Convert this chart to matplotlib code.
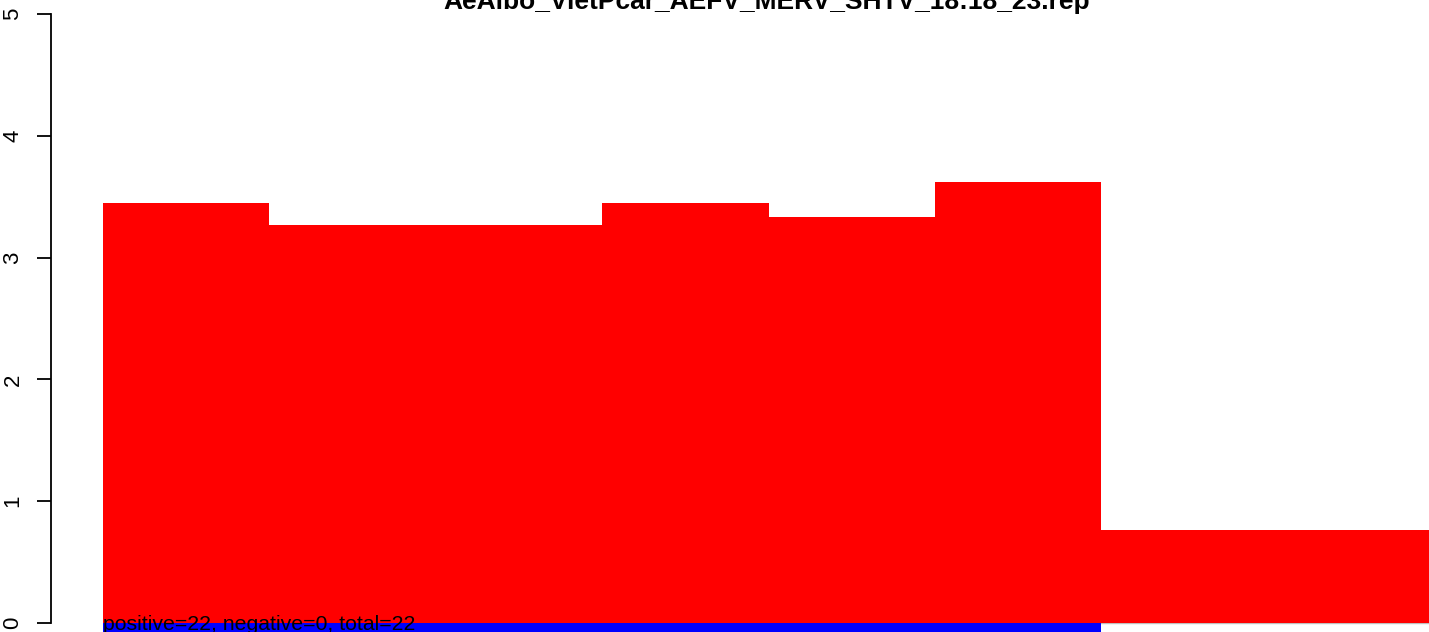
import matplotlib
matplotlib.use("Agg")
import matplotlib.pyplot as plt

plt.rcParams['font.family'] = ['Liberation Sans', 'DejaVu Sans']

title = "AeAlbo_VietPcar_AEFV_MERV_SHTV_18:18_23.rep"
positive = [3.45, 3.27, 3.27, 3.45, 3.33, 3.62, 0.76, 0.76]
negative = [-0.1, -0.1, -0.1, -0.1, -0.1, -0.1, 0.0, 0.0]
yticks = [0, 1, 2, 3, 4, 5]
note = "positive=22, negative=0, total=22"

W, H = 1429, 632
fig = plt.figure(figsize=(W / 100, H / 100), dpi=100)
ax = fig.add_axes([50.5 / W, 0, 1 - 50.5 / W, 1])

unit = 166.4
x = list(range(len(positive)))
ax.hlines(0, 0, len(positive), color='#bebebe', lw=1, zorder=1)
ax.bar(x, positive, width=1.0, align='edge', color='#ff0000', lw=0, zorder=2)
ax.bar(x, negative, width=1.0, align='edge', color='#0000ff', lw=0, zorder=2)

ax.set_xlim(-(103 - 50.5) / unit, (W - 103) / unit)
ax.set_ylim(-9 / 121.8, 623 / 121.8)

for s in ['top', 'right', 'bottom']:
    ax.spines[s].set_visible(False)
ax.spines['left'].set_bounds(0, 5)
ax.spines['left'].set_linewidth(1.3)
ax.set_xticks([])
ax.set_yticks(yticks)
ax.set_yticklabels([str(v) for v in yticks], rotation=90, va='center', ha='center', fontsize=16)
ax.tick_params(axis='y', length=10, width=1.3, pad=17)

ax.text(0, -0.06, note, fontsize=15.3, color='black', ha='left', va='baseline', zorder=5)

fig.text(767 / W, 1 - 8.5 / H, title, fontsize=19, fontweight='bold', ha='center', va='baseline')

fig.savefig('out.png', dpi=100)
